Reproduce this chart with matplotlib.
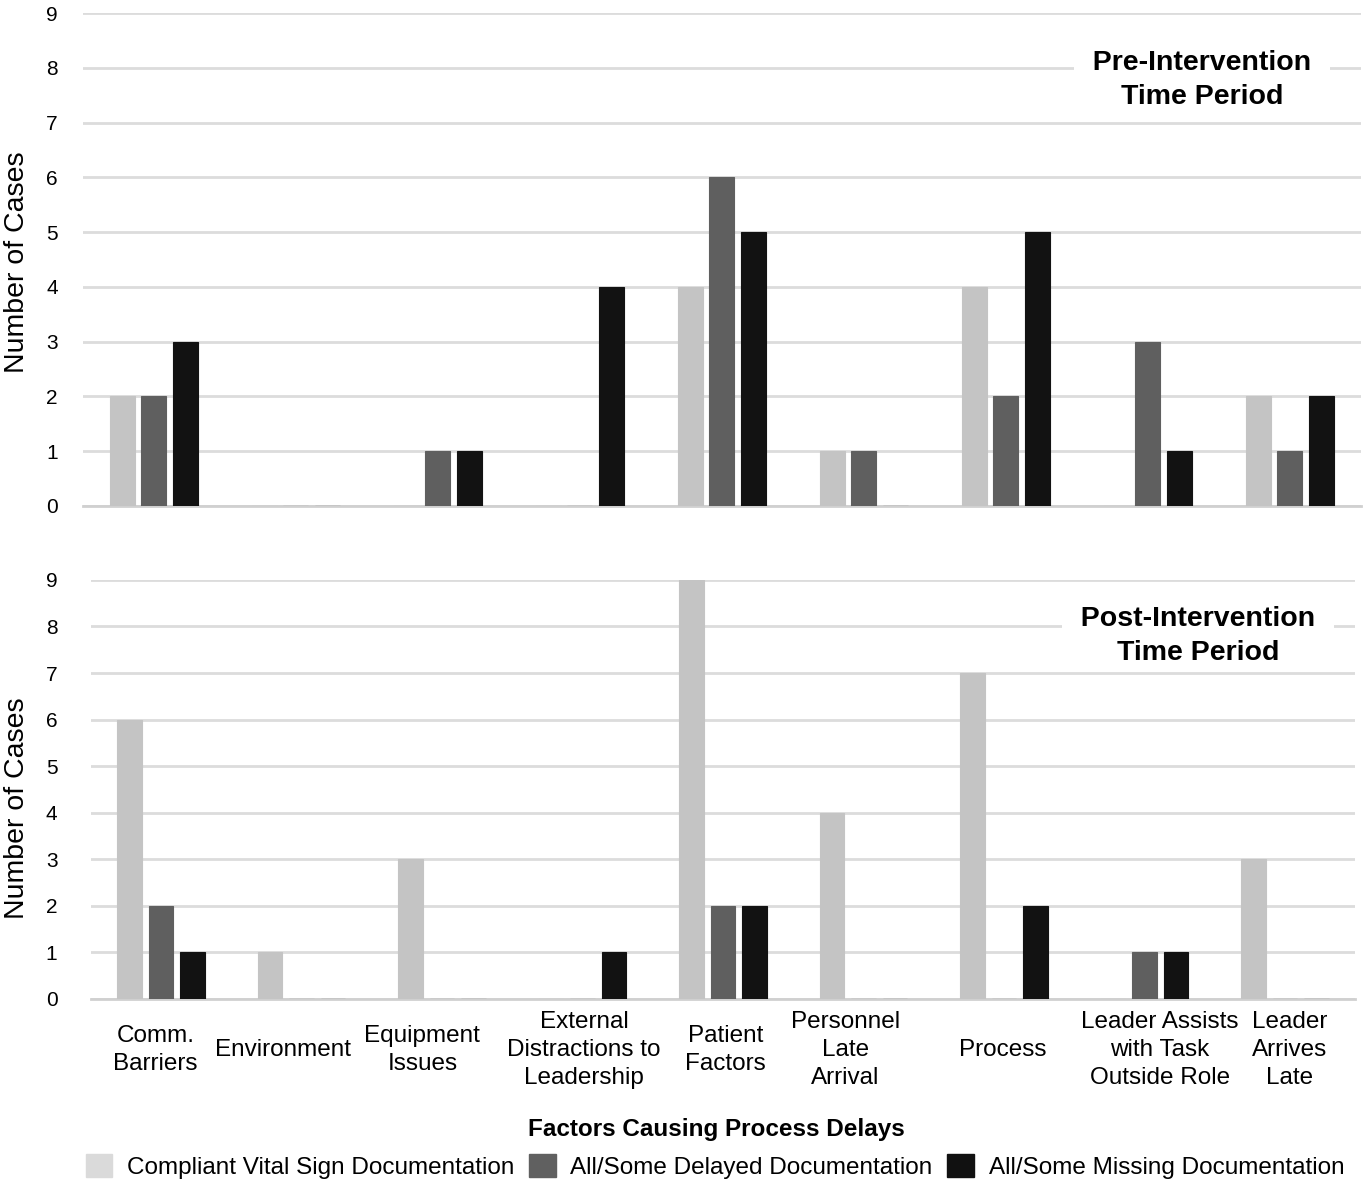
import matplotlib
matplotlib.use('Agg')
import matplotlib.pyplot as plt
import matplotlib.transforms as mtransforms
from matplotlib.patches import Patch
import numpy as np

plt.rcParams['font.family'] = ['Liberation Sans', 'DejaVu Sans']

categories = ['Comm.\nBarriers', 'Environment', 'Equipment\nIssues',
              'External\nDistractions to\nLeadership', 'Patient\nFactors',
              'Personnel\nLate\nArrival', 'Process',
              'Leader Assists\nwith Task\nOutside Role', 'Leader\nArrives\nLate']
series = ['Compliant Vital Sign Documentation', 'All/Some Delayed Documentation',
          'All/Some Missing Documentation']

pre_compliant = [2, 0, 0, 0, 4, 1, 4, 0, 2]
pre_delayed = [2, 0, 1, 0, 6, 1, 2, 3, 1]
pre_missing = [3, 0, 1, 4, 5, 0, 5, 1, 2]

post_compliant = [6, 1, 3, 0, 9, 4, 7, 0, 3]
post_delayed = [2, 0, 0, 0, 2, 0, 0, 1, 0]
post_missing = [1, 0, 0, 1, 2, 0, 2, 1, 0]

bar_colors = ['#c4c4c4', '#5f5f5f', '#121212']
legend_colors = ['#dadada', '#606060', '#111111']
# small horizontal nudges of the category labels (layout only)
label_shift = [-0.04, -0.13, -0.14, 0.01, 0.02, -0.13, -0.01, 0.11, 0.035]

fig = plt.figure(figsize=(13.67, 11.85), dpi=100)
ax_pre = fig.add_axes([0.0607, 0.573, 0.9349, 0.416])
ax_post = fig.add_axes([0.0664, 0.157, 0.925, 0.3536])

x = np.arange(len(categories)) + 0.5


def draw_panel(ax, data, title, pad, ty):
    for i, vals in enumerate(data):
        ax.bar(x + (i - 1) * 0.225, vals, width=0.176, color=bar_colors[i],
               edgecolor=bar_colors[i], linewidth=0.8, zorder=3)
    ax.set_xlim(0, 9)
    ax.set_ylim(0, 9)
    ax.set_yticks(range(10))
    ax.tick_params(axis='y', length=0, labelsize=15, pad=pad)
    ax.tick_params(axis='x', length=0, labelbottom=False)
    ax.grid(axis='y', color='#dcdcdc', linewidth=2)
    ax.set_axisbelow(True)
    for s in ['top', 'right', 'left']:
        ax.spines[s].set_visible(False)
    ax.spines['bottom'].set_color('#d0d0d0')
    ax.spines['bottom'].set_linewidth(2)
    # padding spaces widen the white box that breaks the gridline
    ax.text(7.88, ty, title, ha='center', va='center', fontsize=20.5,
            fontweight='bold', linespacing=1.38, zorder=5,
            bbox=dict(boxstyle='square,pad=0.1', facecolor='white',
                      edgecolor='none'))


draw_panel(ax_pre, [pre_compliant, pre_delayed, pre_missing],
           '  Pre-Intervention  \nTime Period', 18, 7.78)
draw_panel(ax_post, [post_compliant, post_delayed, post_missing],
           '  Post-Intervention  \nTime Period', 24, 7.8)

fig.text(0.0125, 0.779, 'Number of Cases', rotation=90, ha='center', va='center',
         fontsize=20.5)
fig.text(0.0125, 0.318, 'Number of Cases', rotation=90, ha='center', va='center',
         fontsize=20.5)

trans = mtransforms.blended_transform_factory(ax_post.transData, fig.transFigure)
for xc, lab, sh in zip(x, categories, label_shift):
    ax_post.text(xc + sh, 0.114, lab, transform=trans, ha='center', va='center',
                 fontsize=17.5, linespacing=1.33)

fig.text(0.524, 0.047, 'Factors Causing Process Delays', ha='center', va='center',
         fontsize=17.5, fontweight='bold')

handles = [Patch(facecolor=c, edgecolor=c) for c in legend_colors]
fig.legend(handles, series, loc='center', bbox_to_anchor=(0.523, 0.016), ncol=3,
           frameon=False, fontsize=17.5, handlelength=1.1, handleheight=1.1,
           handletextpad=0.6, columnspacing=0.6, borderaxespad=0)

fig.savefig('out.png', dpi=100)
